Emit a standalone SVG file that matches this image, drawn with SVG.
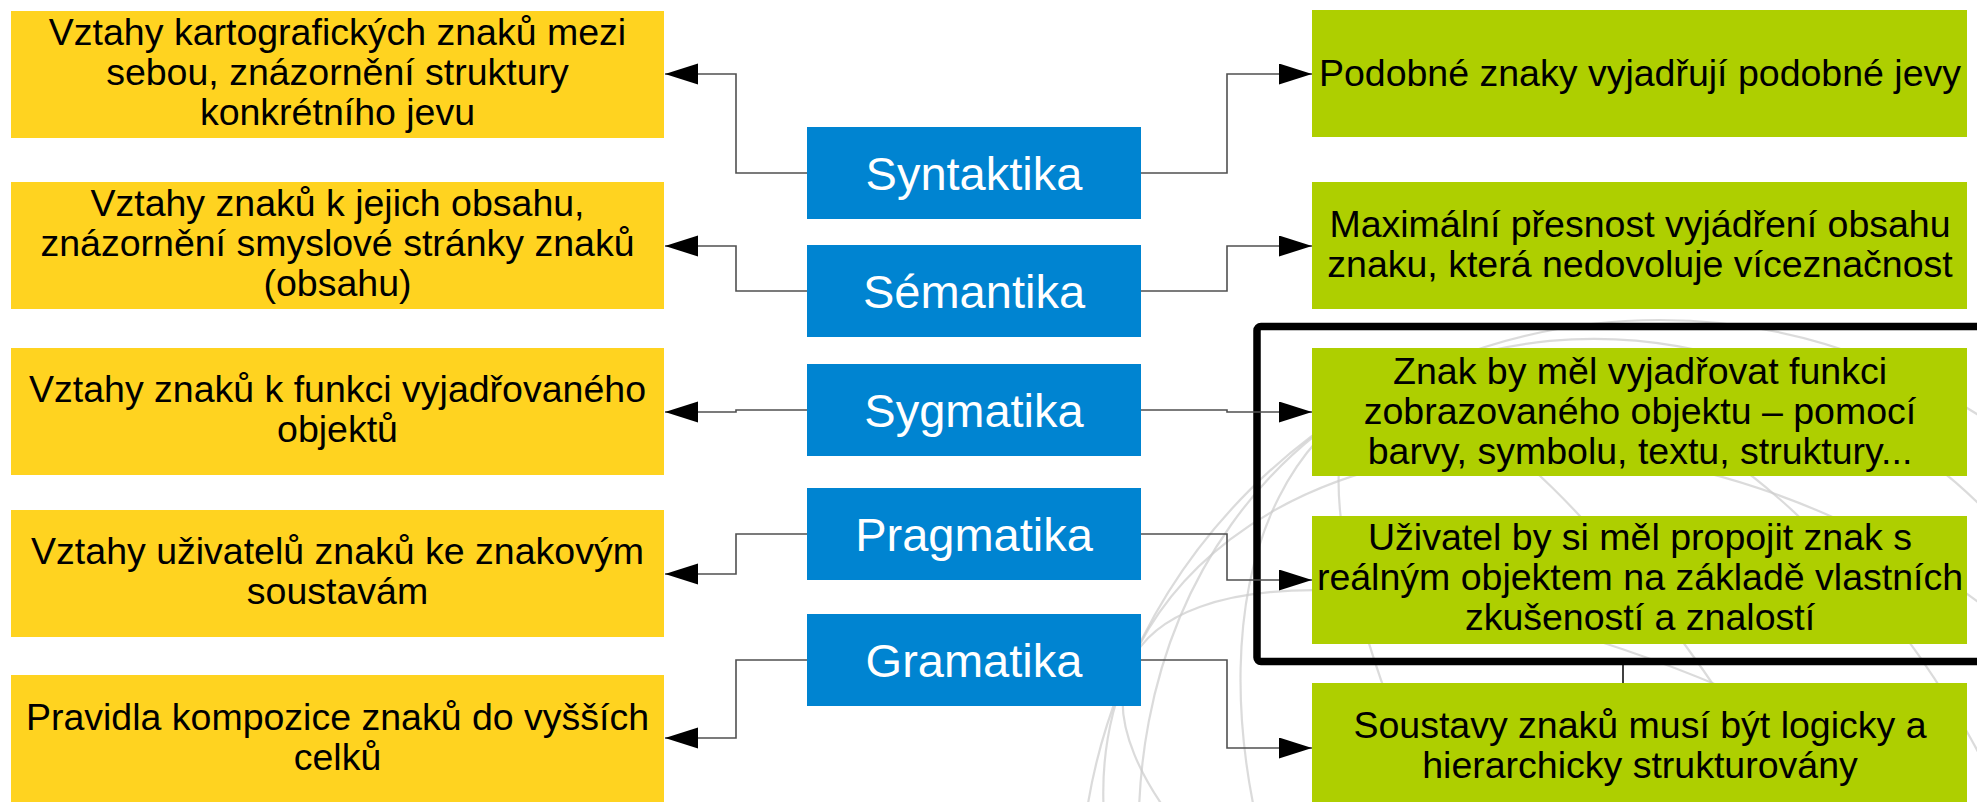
<svg xmlns="http://www.w3.org/2000/svg" width="1977" height="802" viewBox="0 0 1977 802">
<style>
.yel{fill:#ffd320}
.grn{fill:#aecf00}
.blu{fill:#0084d1}
.t{font-family:"Liberation Sans",Arial,sans-serif;font-size:37.5px;fill:#000;text-anchor:middle}
.bt{font-family:"Liberation Sans",Arial,sans-serif;font-size:47px;fill:#fff;text-anchor:middle}
.c{fill:none;stroke:#505050;stroke-width:1.6}
.globe{fill:none;stroke:#cccccc;stroke-width:2.2;opacity:0.7}
</style>
<defs>
<marker id="ah" markerUnits="userSpaceOnUse" markerWidth="34" markerHeight="22" refX="33" refY="10.5" orient="auto">
<path d="M0,0 L33,10.5 L0,21 Z" fill="#000"/>
</marker>
</defs>
<rect width="1977" height="802" fill="#fff"/>
<g id="background">
<circle class="globe" cx="1660" cy="900" r="580"/>
<g transform="rotate(-30 1660 900)">
<ellipse class="globe" cx="1660" cy="900" rx="160" ry="580"/>
<ellipse class="globe" cx="1660" cy="900" rx="350" ry="580"/>
<ellipse class="globe" cx="1660" cy="900" rx="500" ry="580"/>
</g>
<g transform="rotate(24 1660 900)">
<ellipse class="globe" cx="1660" cy="900" rx="580" ry="220"/>
<ellipse class="globe" cx="1660" cy="900" rx="580" ry="420"/>
</g>
</g>
<g id="left-1"><rect class="yel" x="11" y="11" width="653" height="127"/>
<text class="t"><tspan x="337.5" y="45">Vztahy kartografických znaků mezi</tspan><tspan x="337.5" y="85">sebou, znázornění struktury</tspan><tspan x="337.5" y="125">konkrétního jevu</tspan></text></g>
<g id="left-2"><rect class="yel" x="11" y="182" width="653" height="127"/>
<text class="t"><tspan x="337.5" y="216">Vztahy znaků k jejich obsahu,</tspan><tspan x="337.5" y="256">znázornění smyslové stránky znaků</tspan><tspan x="337.5" y="296">(obsahu)</tspan></text></g>
<g id="left-3"><rect class="yel" x="11" y="348" width="653" height="127"/>
<text class="t"><tspan x="337.5" y="402">Vztahy znaků k funkci vyjadřovaného</tspan><tspan x="337.5" y="442">objektů</tspan></text></g>
<g id="left-4"><rect class="yel" x="11" y="510" width="653" height="127"/>
<text class="t"><tspan x="337.5" y="564">Vztahy uživatelů znaků ke znakovým</tspan><tspan x="337.5" y="604">soustavám</tspan></text></g>
<g id="left-5"><rect class="yel" x="11" y="675" width="653" height="130"/>
<text class="t"><tspan x="337.5" y="730">Pravidla kompozice znaků do vyšších</tspan><tspan x="337.5" y="770">celků</tspan></text></g>
<g id="syntaktika"><rect class="blu" x="807" y="127" width="334" height="92"/><text class="bt" x="974" y="190">Syntaktika</text></g>
<g id="semantika"><rect class="blu" x="807" y="245" width="334" height="92"/><text class="bt" x="974" y="308">Sémantika</text></g>
<g id="sygmatika"><rect class="blu" x="807" y="364" width="334" height="92"/><text class="bt" x="974" y="427">Sygmatika</text></g>
<g id="pragmatika"><rect class="blu" x="807" y="488" width="334" height="92"/><text class="bt" x="974" y="551">Pragmatika</text></g>
<g id="gramatika"><rect class="blu" x="807" y="614" width="334" height="92"/><text class="bt" x="974" y="677">Gramatika</text></g>
<g id="right-1"><rect class="grn" x="1312" y="10" width="655" height="127"/>
<text class="t" x="1640" y="86">Podobné znaky vyjadřují podobné jevy</text></g>
<g id="right-2"><rect class="grn" x="1312" y="182" width="655" height="127"/>
<text class="t"><tspan x="1640" y="237">Maximální přesnost vyjádření obsahu</tspan><tspan x="1640" y="277">znaku, která nedovoluje víceznačnost</tspan></text></g>
<g id="right-3"><rect class="grn" x="1312" y="348" width="655" height="128"/>
<text class="t"><tspan x="1640" y="384">Znak by měl vyjadřovat funkci</tspan><tspan x="1640" y="424">zobrazovaného objektu – pomocí</tspan><tspan x="1640" y="464">barvy, symbolu, textu, struktury...</tspan></text></g>
<g id="right-4"><rect class="grn" x="1312" y="516" width="655" height="128"/>
<text class="t"><tspan x="1640" y="550">Uživatel by si měl propojit znak s</tspan><tspan x="1640" y="590">reálným objektem na základě vlastních</tspan><tspan x="1640" y="630">zkušeností a znalostí</tspan></text></g>
<g id="right-5"><rect class="grn" x="1312" y="683" width="655" height="130"/>
<text class="t"><tspan x="1640" y="738">Soustavy znaků musí být logicky a</tspan><tspan x="1640" y="778">hierarchicky strukturovány</tspan></text></g>
<g id="highlight"><rect x="1257" y="326.5" width="760" height="335" rx="4" fill="none" stroke="#000" stroke-width="7.5"/></g>
<g id="connectors">
<path class="c" marker-end="url(#ah)" d="M807,173 H736 V74 H665"/>
<path class="c" marker-end="url(#ah)" d="M807,291 H736 V246 H665"/>
<path class="c" marker-end="url(#ah)" d="M807,410 H736 V412 H665"/>
<path class="c" marker-end="url(#ah)" d="M807,534 H736 V574 H665"/>
<path class="c" marker-end="url(#ah)" d="M807,660 H736 V738 H665"/>
<path class="c" marker-end="url(#ah)" d="M1141,173 H1227 V74 H1312"/>
<path class="c" marker-end="url(#ah)" d="M1141,291 H1227 V246 H1312"/>
<path class="c" marker-end="url(#ah)" d="M1141,410 H1227 V412 H1312"/>
<path class="c" marker-end="url(#ah)" d="M1141,534 H1227 V580 H1312"/>
<path class="c" marker-end="url(#ah)" d="M1141,660 H1227 V748 H1312"/>
<path d="M1623,665 V683" stroke="#000" stroke-width="1.5" fill="none"/>
</g>
</svg>
